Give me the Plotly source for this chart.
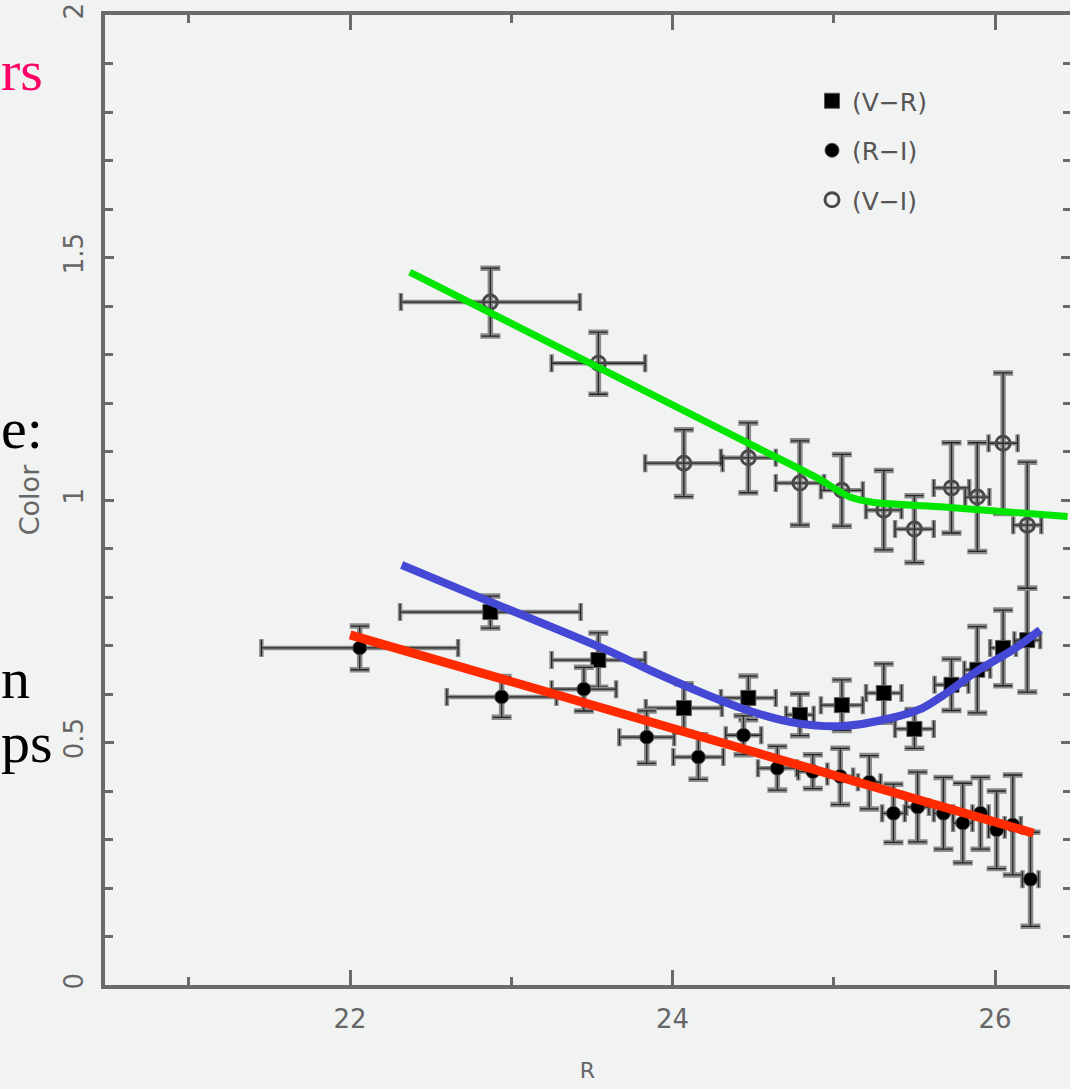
import plotly.graph_objects as go

# ---------------- data ----------------
R_VR = [22.87, 23.54, 24.07, 24.47, 24.79, 25.05, 25.31, 25.50, 25.73, 25.89, 26.05, 26.20]
VR = [0.769, 0.670, 0.571, 0.592, 0.557, 0.577, 0.602, 0.528, 0.619, 0.650, 0.695, 0.711]
VR_xerr = [0.56, 0.29, 0.236, 0.17, 0.085, 0.13, 0.11, 0.12, 0.105, 0.08, 0.08, 0.08]
VR_yerr = [0.033, 0.056, 0.05, 0.045, 0.043, 0.052, 0.06, 0.04, 0.053, 0.089, 0.078, 0.107]

R_RI = [22.06, 22.94, 23.45, 23.84, 24.16, 24.44, 24.65, 24.87, 25.04, 25.22, 25.37, 25.52,
        25.68, 25.80, 25.91, 26.01, 26.11, 26.22]
RI = [0.695, 0.594, 0.610, 0.511, 0.470, 0.515, 0.447, 0.440, 0.430, 0.418, 0.354, 0.367,
      0.354, 0.334, 0.354, 0.320, 0.330, 0.218]
RI_xerr = [0.61, 0.34, 0.20, 0.17, 0.155, 0.11, 0.12, 0.09, 0.08, 0.07, 0.07, 0.07,
           0.06, 0.06, 0.05, 0.05, 0.05, 0.05]
RI_yerr = [0.045, 0.042, 0.045, 0.054, 0.046, 0.040, 0.045, 0.035, 0.058, 0.055, 0.060, 0.072,
           0.074, 0.082, 0.074, 0.080, 0.103, 0.097]

R_VI = [22.87, 23.54, 24.07, 24.47, 24.79, 25.05, 25.31, 25.50, 25.73, 25.89, 26.05, 26.20]
VI = [1.408, 1.282, 1.076, 1.087, 1.035, 1.020, 0.979, 0.940, 1.025, 1.006, 1.117, 0.948]
VI_xerr = [0.555, 0.29, 0.24, 0.17, 0.15, 0.13, 0.11, 0.12, 0.11, 0.075, 0.09, 0.087]
VI_yerr = [0.070, 0.064, 0.069, 0.072, 0.087, 0.074, 0.082, 0.069, 0.093, 0.112, 0.145, 0.130]

green_x = [22.37, 24.5, 24.9, 25.1, 25.25, 25.7, 26.1, 26.45]
green_y = [1.47, 1.112, 1.045, 1.006, 0.995, 0.985, 0.975, 0.966]
blue_x = [22.32, 22.87, 23.59, 23.86, 24.2, 24.46, 24.77, 25.06, 25.35, 25.55, 25.7, 25.9, 26.11, 26.28]
blue_y = [0.866, 0.79, 0.691, 0.649, 0.60, 0.567, 0.540, 0.534, 0.550, 0.571, 0.602, 0.650, 0.691, 0.732]
red_x = [22.0, 26.24]
red_y = [0.722, 0.313]

x_ticks = [22, 24, 26]
x_minor = [21, 23, 25]
y_ticks = [0, 0.5, 1, 1.5, 2]
y_ticktext = ["0", "0.5", "1", "1.5", "2"]

slide_texts = ["rs", "e:", "n", "ps"]

# ---------------- figure ----------------
W, H = 1070, 1089
ML, MR, MT, MB = 105, 0, 15, 104
PW, PH = W - ML - MR, H - MT - MB

def px_x(p):
    return (p - ML) / PW

def px_y(p):
    return (H - MB - p) / PH

AX = "#6a6a6a"
FONT = "DejaVu Sans"

fig = go.Figure()

def add_series(name, x, y, xerr, yerr, marker):
    fig.add_trace(go.Scatter(
        x=x, y=y, mode="markers", marker=dict(size=1, color="rgba(0,0,0,0)"),
        error_x=dict(type="data", array=xerr, color="#8a8a8a", thickness=4.5, width=9),
        error_y=dict(type="data", array=yerr, color="#8a8a8a", thickness=5.5, width=10),
        showlegend=False, hoverinfo="skip"))
    fig.add_trace(go.Scatter(
        x=x, y=y, mode="markers", name=name, marker=marker, legendgroup=name,
        error_x=dict(type="data", array=xerr, color="#262626", thickness=1.3, width=8),
        error_y=dict(type="data", array=yerr, color="#262626", thickness=1.3, width=9)))

add_series("(V\u2212R)", R_VR, VR, VR_xerr, VR_yerr,
           dict(symbol="square", size=15, color="#000000", line=dict(color="#555", width=1)))
add_series("(R\u2212I)", R_RI, RI, RI_xerr, RI_yerr,
           dict(symbol="circle", size=14, color="#000000", line=dict(color="#555", width=1)))
add_series("(V\u2212I)", R_VI, VI, VI_xerr, VI_yerr,
           dict(symbol="circle-open", size=14, color="#4a4a4a", line=dict(width=3)))

fig.add_trace(go.Scatter(x=green_x, y=green_y, mode="lines", showlegend=False, hoverinfo="skip",
                         line=dict(color="#00e600", width=7, shape="spline", smoothing=0.5)))
fig.add_trace(go.Scatter(x=blue_x, y=blue_y, mode="lines", showlegend=False, hoverinfo="skip",
                         line=dict(color="#4448d4", width=8, shape="spline", smoothing=0.8)))
fig.add_trace(go.Scatter(x=red_x, y=red_y, mode="lines", showlegend=False, hoverinfo="skip",
                         line=dict(color="#ff2a00", width=9)))
# invisible trace that carries the right-hand tick axis
fig.add_trace(go.Scatter(x=[None], y=[None], yaxis="y2", showlegend=False, hoverinfo="skip"))

annotations = []
slide_pos = [70, 428, 678, 742]
for i, (t, yc) in enumerate(zip(slide_texts, slide_pos)):
    annotations.append(dict(
        text=t, xref="paper", yref="paper", x=px_x(0), y=px_y(yc),
        xanchor="left", yanchor="middle", showarrow=False, borderpad=0,
        font=dict(family="Liberation Serif", size=58, color="#ff0066" if i == 0 else "#000000")))

tickfont = dict(family=FONT, size=26, color="#666666")

fig.update_layout(
    width=W, height=H,
    margin=dict(l=ML, r=MR, t=MT, b=MB, pad=0),
    paper_bgcolor="#f1f2f2", plot_bgcolor="rgba(0,0,0,0)",
    showlegend=True,
    legend=dict(x=px_x(812), y=px_y(78), xanchor="left", yanchor="top",
                bgcolor="rgba(0,0,0,0)", borderwidth=0, itemwidth=30,
                traceorder="grouped", tracegroupgap=14,
                font=dict(family=FONT, size=25, color="#555555")),
    annotations=annotations,
    xaxis=dict(range=[20.48, 26.465], tickmode="array", tickvals=x_ticks,
               ticks="inside", ticklen=15, tickwidth=3, tickcolor=AX,
               showline=True, linecolor=AX, linewidth=4, mirror="ticks",
               showgrid=False, zeroline=False,
               minor=dict(tickmode="array", tickvals=x_minor, ticks="inside",
                          ticklen=8, tickwidth=3, tickcolor=AX),
               tickfont=tickfont, ticklabelstandoff=8,
               title=dict(text="R", font=dict(family=FONT, size=22, color="#666666"), standoff=30)),
    yaxis=dict(range=[0, 2], tickmode="array", tickvals=y_ticks, ticktext=y_ticktext,
               tickangle=-90, ticks="inside", ticklen=9, tickwidth=3, tickcolor=AX,
               showline=True, linecolor=AX, linewidth=4, mirror=False,
               showgrid=False, zeroline=False,
               minor=dict(dtick=0.1, tick0=0, ticks="inside", ticklen=8, tickwidth=3, tickcolor=AX),
               tickfont=tickfont, ticklabelstandoff=8,
               title=dict(text="Color", font=dict(family=FONT, size=27, color="#666666"), standoff=12)),
    yaxis2=dict(range=[0, 2], overlaying="y", side="right", tickmode="array", tickvals=y_ticks,
                showticklabels=False, ticks="inside", ticklen=9, tickwidth=3, tickcolor=AX,
                showline=False, showgrid=False, zeroline=False,
                minor=dict(dtick=0.1, tick0=0, ticks="inside", ticklen=7, tickwidth=3, tickcolor=AX)),
)

fig.write_html("out.html")
